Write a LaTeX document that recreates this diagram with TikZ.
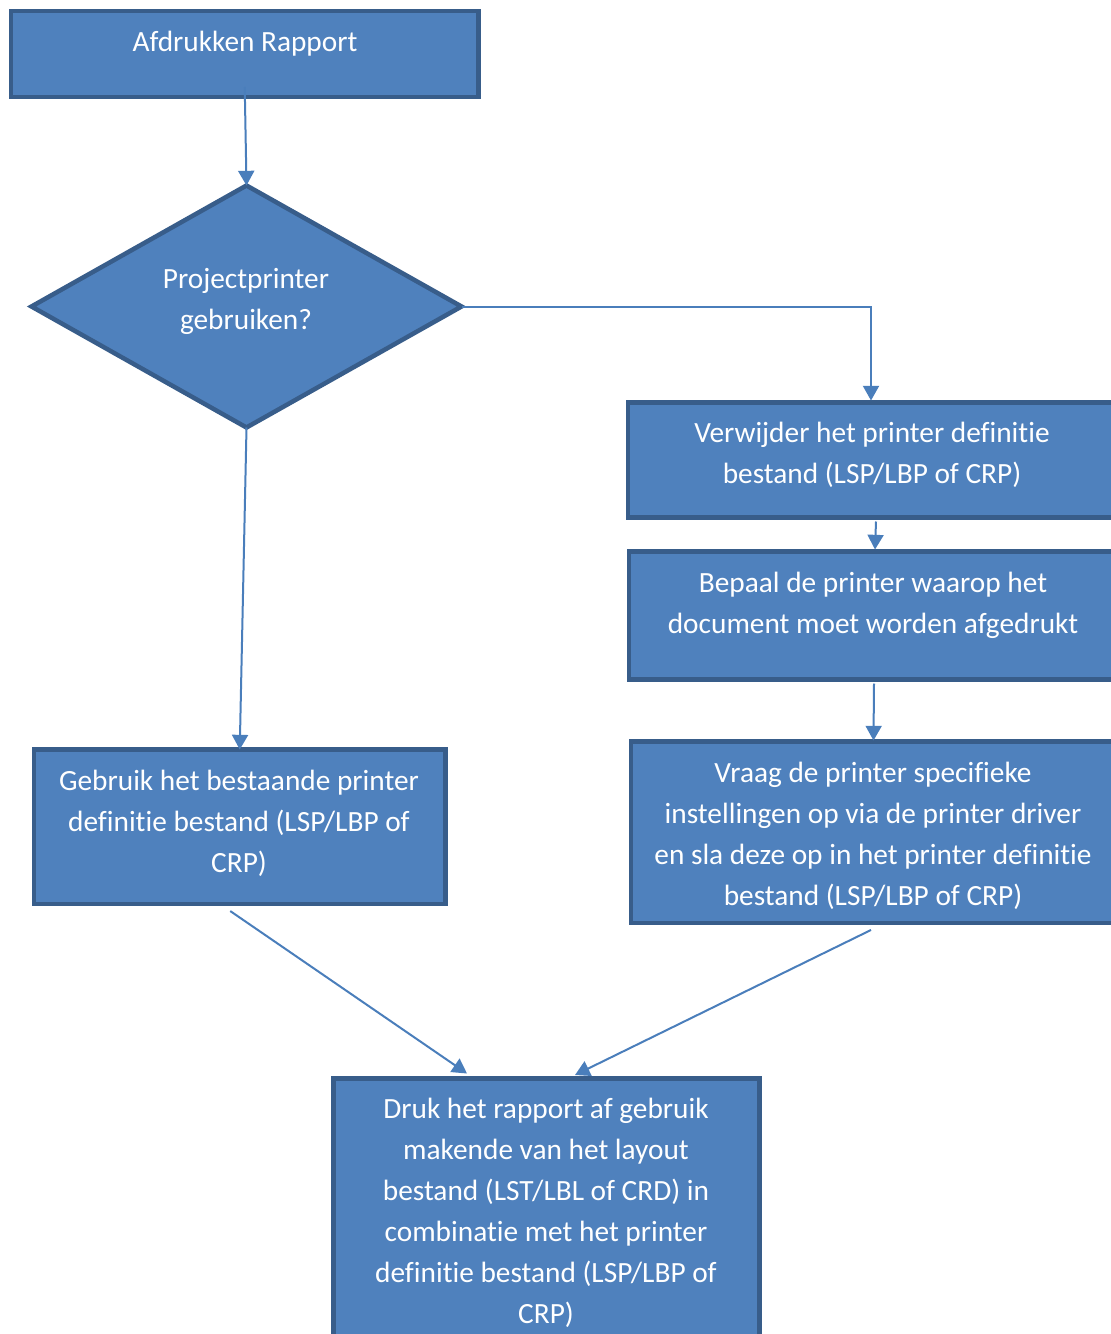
\documentclass[tikz,border=0pt]{standalone}
\usepackage{fontspec}
\setmainfont[Ligatures={NoCommon,NoRare,NoContextual},RawFeature={-liga;-clig;-dlig;-calt}]{Carlito}
\usetikzlibrary{shapes.geometric,arrows.meta,calc}
\definecolor{boxfill}{HTML}{4F81BD}
\definecolor{boxline}{HTML}{385D8A}
\definecolor{arrowc}{HTML}{4A7EBB}
\begin{document}
\begin{tikzpicture}[x=0.75pt,y=-0.75pt,
  box/.style={draw=boxline,fill=boxfill,line width=3.4pt,rectangle,inner sep=0pt,outer sep=0pt,anchor=north west},
  txt/.style={text=white,align=center,inner sep=0pt,font=\fontsize{22pt}{30.75pt}\selectfont},
  conn/.style={draw=arrowc,line width=1.5pt,-{Triangle[width=12pt,length=11pt]}}]
\useasboundingbox (0,0) rectangle (1110,1334);
% boxes
\node[box,minimum width=350.6pt,minimum height=64.5pt] (b1) at (11,11) {};
\node[diamond,draw=boxline,fill=boxfill,line width=3.4pt,inner sep=0pt,outer sep=0pt,minimum width=322.5pt,minimum height=181.5pt] (dia) at (246.5,306.5) {};
\node[box,minimum width=364.5pt,minimum height=86.25pt] (v) at (628,402.5) {};
\node[box,minimum width=367.5pt,minimum height=96pt] (bp) at (629,551.5) {};
\node[box,minimum width=363.75pt,minimum height=136.1pt] (vr) at (631,741.5) {};
\node[box,minimum width=308.6pt,minimum height=115.9pt] (g) at (34,749.5) {};
\node[box,minimum width=319.5pt,minimum height=200pt] (d) at (333.5,1078.5) {};
% texts
\node[txt] (t1) at (245,44) {Afdrukken Rapport};
\node[txt] (tdia) at (246,301) {Projectprinter\\gebruiken?};
\node[txt] (tv) at (872,455) {Verwijder het printer definitie\\bestand (LSP/LBP of CRP)};
\node[txt] (tbp) at (873,605) {Bepaal de printer waarop het\\document moet worden afgedrukt};
\node[txt] (tvr) at (873,836) {Vraag de printer specifieke\\instellingen op via de printer driver\\en sla deze op in het printer definitie\\bestand (LSP/LBP of CRP)};
\node[txt] (tg) at (239,823) {Gebruik het bestaande printer\\definitie bestand (LSP/LBP of\\CRP)};
\node[txt] (td) at (546,1213) {Druk het rapport af gebruik\\makende van het layout\\bestand (LST/LBL of CRD) in\\combinatie met het printer\\definitie bestand (LSP/LBP of\\CRP)};
% connectors
\draw[conn] ($(b1.south)+(0,-10)$) -- (dia.north);
\draw[conn] (dia.east) -| ($(v.north)+(0,-2)$);
\draw[conn] ($(v.south)+(5,4)$) -- ($(bp.north)+(1,-2)$);
\draw[conn] ($(bp.south)+(0,4)$) -- ($(vr.north)+(0,-1)$);
\draw[conn] (dia.south) -- (g.north);
\draw[conn] ($(g.south)+(-9.5,7)$) -- ($(d.north)+(-79.5,-5)$);
\draw[conn] ($(vr.south)+(-2.5,7)$) -- ($(d.north)+(28.5,-3.5)$);
\end{tikzpicture}
\end{document}
